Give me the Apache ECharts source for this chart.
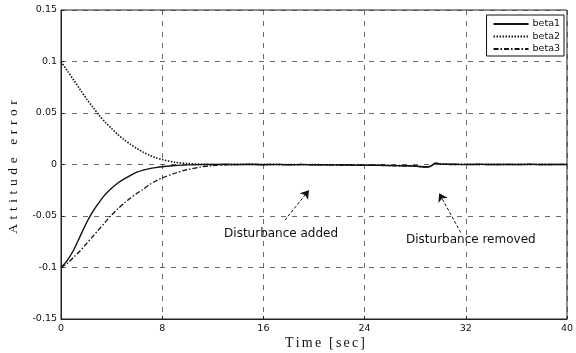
<!DOCTYPE html>
<html>
<head>
<meta charset="utf-8">
<script src="https://cdn.jsdelivr.net/npm/echarts@6/dist/echarts.min.js"></script>
<style>
  html, body { margin: 0; padding: 0; background: #fff; }
  #chart { width: 576px; height: 353px; }
</style>
</head>
<body>
<div id="chart"></div>
<script>
// Time samples [sec]
const time = [0,0.5,1,1.5,2,2.5,3,3.5,4,4.5,5,5.5,6,6.5,7,7.5,8,
  9,10,11,12,13,14,15,16,17,18,19,20,21,22,23,24,25,26,27,28,
  28.5,29,29.3,29.6,30,
  31,32,33,34,35,36,37,38,39,40];

// Attitude error components
const beta1 = [-0.100,-0.093,-0.083,-0.070,-0.057,-0.046,-0.037,-0.029,-0.023,-0.018,-0.014,-0.0105,-0.0075,-0.0055,-0.004,-0.003,-0.0022,
  -0.001,-0.0004,-0.0001,0,0.0002,-0.0001,0.0002,-0.0002,0.0001,-0.0003,0.0001,-0.0002,-0.0004,-0.0003,-0.0006,-0.0008,-0.0007,-0.001,-0.0012,-0.0015,
  -0.0022,-0.0025,-0.0012,0.0012,0.0004,
  0.0002,-0.0001,0.0002,0,0.0001,-0.0001,0.0002,0,0.0001,0];
const beta2 = [0.100,0.091,0.082,0.073,0.064,0.056,0.048,0.041,0.035,0.029,0.024,0.0195,0.0155,0.012,0.009,0.0065,0.0048,
  0.0022,0.0009,0.0003,0,-0.0001,0.0002,-0.0001,0.0001,-0.0002,0,-0.0003,-0.0001,-0.0003,-0.0005,-0.0004,-0.0007,-0.0006,-0.0009,-0.0011,-0.0013,
  -0.002,-0.0022,-0.001,0.0013,0.0005,
  0.0001,0.0002,-0.0001,0.0001,0,0.0002,-0.0001,0.0001,0,0.0001];
const beta3 = [-0.100,-0.096,-0.090,-0.084,-0.077,-0.070,-0.063,-0.056,-0.049,-0.043,-0.0375,-0.0325,-0.028,-0.024,-0.0195,-0.016,-0.013,
  -0.0085,-0.005,-0.0025,-0.001,-0.0003,0,0.0001,-0.0001,0.0002,-0.0002,0,-0.0003,-0.0002,-0.0005,-0.0005,-0.0008,-0.0009,-0.0011,-0.0013,-0.0016,
  -0.0021,-0.0023,-0.0011,0.0011,0.0003,
  0,0.0001,0.0001,-0.0001,0.0001,0,0.0001,-0.0001,0.0001,0];

const seriesNames = ['beta1', 'beta2', 'beta3'];

// Annotations: arrow tail -> head, and label anchor (data coordinates)
const addedArrow = [[17.7, -0.054], [19.6, -0.025]];
const addedLabel = [17.4, -0.067];
const removedArrow = [[31.6, -0.066], [29.9, -0.028]];
const removedLabel = [32.4, -0.073];

const xTicks = { min: 0, max: 40, step: 8 };
const yTicks = { min: -0.15, max: 0.15, step: 0.05 };

const zip = (xs, ys) => xs.map((x, i) => [x, ys[i]]);

const annoText = {
  fontFamily: 'DejaVu Sans', fontSize: 12, color: '#111'
};

const chart = echarts.init(document.getElementById('chart'), null, { renderer: 'canvas' });

// Serif axis titles drawn with extra letter spacing
function spacedChars(str, fontSize, family, gap) {
  const ctx = document.createElement('canvas').getContext('2d');
  const font = fontSize + 'px ' + family;
  ctx.font = font;
  let x = 0;
  const kids = [];
  for (const ch of str) {
    kids.push({
      type: 'text', x: x, y: 0,
      style: { text: ch, font: font, fill: '#111', textAlign: 'left', textVerticalAlign: 'middle' }
    });
    x += ctx.measureText(ch).width + gap;
  }
  return { kids, width: x - gap };
}

const yTitle = spacedChars('Attitude error', 13.5, '"Liberation Serif"', 4.6);
const xTitle = spacedChars('Time [sec]', 14, '"Liberation Serif"', 2.2);

const lineStyles = [
  { color: '#111', width: 1.4, type: 'solid' },
  { color: '#111', width: 1.6, type: [1.5, 1.5] },
  { color: '#111', width: 1.3, type: [5, 2, 1.5, 2] }
];
const values = [beta1, beta2, beta3];

const series = seriesNames.map((name, i) => ({
  name: name,
  type: 'line',
  data: zip(time, values[i]),
  symbol: 'none',
  showSymbol: false,
  smooth: 0.3,
  lineStyle: lineStyles[i],
  itemStyle: { color: '#111' },
  z: 3 + (2 - i),
  animation: false
}));

// Annotation arrows and labels ride on the first series
series[0].markLine = {
  silent: true,
  animation: false,
  symbol: ['none', 'arrow'],
  symbolSize: 8,
  label: { show: false },
  lineStyle: { color: '#111', width: 1, type: [3, 2] },
  data: [
    [{ coord: addedArrow[0] }, { coord: addedArrow[1] }],
    [{ coord: removedArrow[0] }, { coord: removedArrow[1] }]
  ]
};
series[0].markPoint = {
  silent: true,
  animation: false,
  symbol: 'circle',
  symbolSize: 0,
  data: [
    { coord: addedLabel, label: Object.assign({ show: true, position: 'inside', formatter: 'Disturbance added' }, annoText) },
    { coord: removedLabel, label: Object.assign({ show: true, position: 'inside', formatter: 'Disturbance removed' }, annoText) }
  ]
};

const gridLine = { show: true, lineStyle: { color: '#444', width: 0.8, type: [5, 6] } };
const tickFont = { fontFamily: 'DejaVu Sans', fontSize: 9.5, color: '#111' };

chart.setOption({
  animation: false,
  backgroundColor: '#fff',
  grid: { left: 61, right: 4, top: 10, bottom: 34, show: true, borderColor: '#222', borderWidth: 1, backgroundColor: 'transparent' },
  legend: {
    data: seriesNames,
    orient: 'vertical',
    right: 12,
    top: 15,
    backgroundColor: '#fff',
    borderColor: '#111',
    borderWidth: 1,
    borderRadius: 0,
    padding: [4, 4, 2, 6],
    itemWidth: 35,
    itemHeight: 10,
    itemGap: 2.5,
    itemStyle: { opacity: 0 },
    textStyle: { fontFamily: 'DejaVu Sans', fontSize: 9.5, color: '#111', padding: [0, 0, 0, -1] }
  },
  xAxis: {
    type: 'value',
    min: xTicks.min, max: xTicks.max, interval: xTicks.step,
    axisLine: { show: true, onZero: false, lineStyle: { color: '#222', width: 1 } },
    axisTick: { show: true, inside: true, length: 3, lineStyle: { color: '#222' } },
    axisLabel: Object.assign({ margin: 5, formatter: v => String(v) }, tickFont),
    splitLine: gridLine
  },
  yAxis: {
    type: 'value',
    min: yTicks.min, max: yTicks.max, interval: yTicks.step,
    axisLine: { show: true, onZero: false, lineStyle: { color: '#222', width: 1 } },
    axisTick: { show: true, inside: true, length: 3, lineStyle: { color: '#222' } },
    axisLabel: Object.assign({ margin: 4, formatter: v => String(+v.toFixed(2)) }, tickFont),
    splitLine: gridLine
  },
  series: series,
  graphic: [
    {
      type: 'group',
      x: 13, y: 167 + yTitle.width / 2,
      rotation: Math.PI / 2,
      children: yTitle.kids
    },
    {
      type: 'group',
      x: 325 - xTitle.width / 2, y: 343,
      children: xTitle.kids
    }
  ]
});
</script>
</body>
</html>
